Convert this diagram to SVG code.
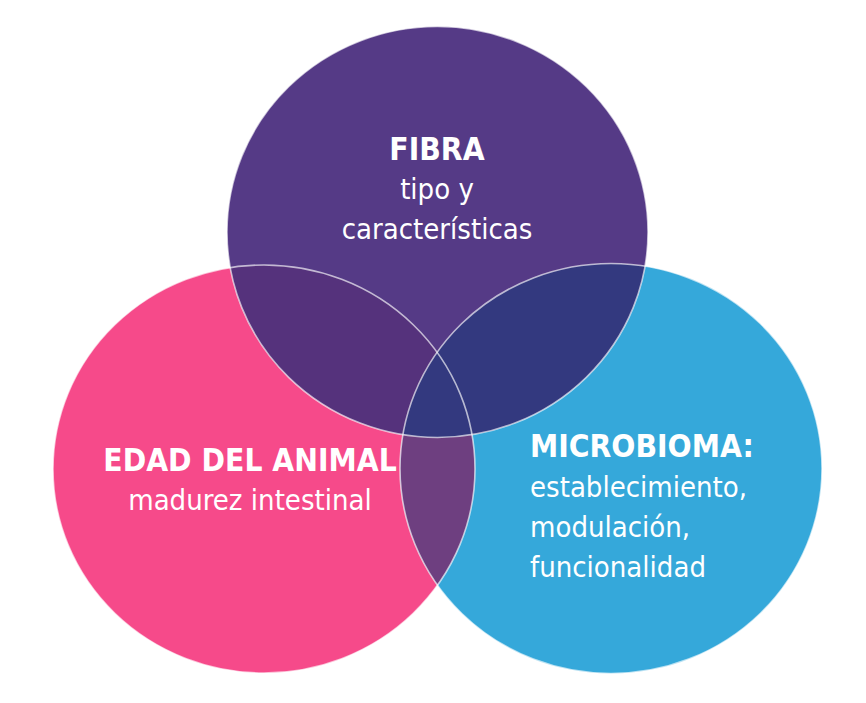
<svg xmlns="http://www.w3.org/2000/svg" width="866" height="703" viewBox="0 0 866 703">
  <style>
    .t { font-family: 'DejaVu Sans Condensed', 'Liberation Sans', sans-serif; fill: #ffffff; font-size: 29px; }
    .b { font-weight: bold; font-size: 31.5px; }
    .edge { fill: none; stroke: #ffffff; stroke-opacity: 0.65; stroke-width: 1.6; }
  </style>
  <defs>
    <ellipse id="ePurple" cx="437.5" cy="232" rx="210.5" ry="205.5"/>
    <ellipse id="ePink" cx="264" cy="469" rx="211" ry="204"/>
    <ellipse id="eBlue" cx="611" cy="468.5" rx="211" ry="205"/>
    <clipPath id="cPink"><use href="#ePink"/></clipPath>
    <clipPath id="cBlue"><use href="#eBlue"/></clipPath>
  </defs>
  <rect width="866" height="703" fill="#ffffff"/>
  <g id="node-edad">
    <use href="#ePink" fill="#f64a8a"/>
  </g>
  <g id="node-microbioma">
    <use href="#eBlue" fill="#35a8da"/>
    <use href="#ePink" fill="#6e3f80" clip-path="url(#cBlue)"/>
  </g>
  <g id="node-fibra">
    <use href="#ePurple" fill="#553a86"/>
    <use href="#ePurple" fill="#55327c" clip-path="url(#cPink)"/>
    <use href="#ePurple" fill="#33397f" clip-path="url(#cBlue)"/>
  </g>
  <g id="outlines">
    <use href="#ePink" class="edge"/>
    <use href="#eBlue" class="edge"/>
    <use href="#ePurple" class="edge"/>
  </g>
  <g id="labels">
    <text class="t b" x="437" y="160" text-anchor="middle">FIBRA</text>
    <text class="t" x="437" y="199" text-anchor="middle">tipo y</text>
    <text class="t" x="437" y="239" text-anchor="middle">características</text>
    <text class="t b" x="250" y="471" text-anchor="middle">EDAD DEL ANIMAL</text>
    <text class="t" x="250" y="510" text-anchor="middle">madurez intestinal</text>
    <text class="t b" x="530" y="457">MICROBIOMA:</text>
    <text class="t" x="530" y="497">establecimiento,</text>
    <text class="t" x="530" y="537">modulación,</text>
    <text class="t" x="530" y="577">funcionalidad</text>
  </g>
</svg>
